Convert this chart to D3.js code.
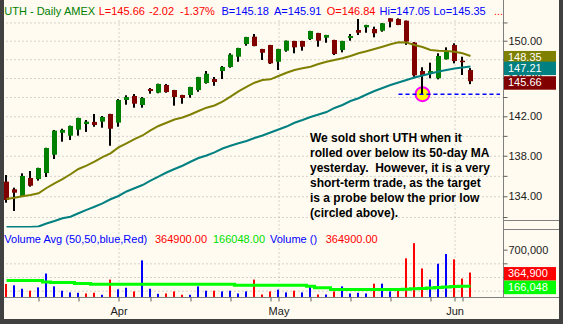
<!DOCTYPE html>
<html>
<head>
<meta charset="utf-8">
<script src="https://cdn.jsdelivr.net/npm/d3@7"></script>
<style>
  html, body { margin: 0; padding: 0; background: #404040; }
  svg { display: block; }
  text { font-family: "Liberation Sans", Arial, sans-serif; }
</style>
</head>
<body>
<svg id="chart" width="563" height="324"></svg>
<script>
// ---- Daily bars, UTH (AMEX) ----
const dates = [
  "2007-03-13","2007-03-14","2007-03-15","2007-03-16","2007-03-19","2007-03-20","2007-03-21","2007-03-22","2007-03-23",
  "2007-03-26","2007-03-27","2007-03-28","2007-03-29","2007-03-30",
  "2007-04-02","2007-04-03","2007-04-04","2007-04-05","2007-04-09","2007-04-10","2007-04-11","2007-04-12","2007-04-13",
  "2007-04-16","2007-04-17","2007-04-18","2007-04-19","2007-04-20","2007-04-23","2007-04-24","2007-04-25","2007-04-26",
  "2007-04-27","2007-04-30",
  "2007-05-01","2007-05-02","2007-05-03","2007-05-04","2007-05-07","2007-05-08","2007-05-09","2007-05-10","2007-05-11",
  "2007-05-14","2007-05-15","2007-05-16","2007-05-17","2007-05-18","2007-05-21","2007-05-22","2007-05-23","2007-05-24",
  "2007-05-25","2007-05-29","2007-05-30","2007-05-31",
  "2007-06-01","2007-06-04","2007-06-05"
];
const open = [135.43,134.68,134.03,135.79,135.69,136.28,138.10,140.32,140.02,140.63,141.21,141.42,141.45,142.24,
  141.35,143.69,144.11,143.17,144.84,144.45,145.26,144.73,144.21,144.21,144.73,145.47,145.89,146.74,147.17,148.27,
  149.64,150.44,149.10,149.53,147.73,148.92,149.97,149.97,150.18,150.84,150.33,150.08,148.99,150.29,151.17,151.46,
  151.28,151.09,152.46,152.38,152.19,149.80,146.74,146.42,145.97,147.99,149.53,147.84,146.84];
const high = [136.08,134.84,136.25,136.48,136.80,138.80,140.60,140.73,141.05,141.85,141.62,142.24,142.03,142.26,
  143.79,144.18,144.31,144.00,144.94,145.40,145.37,144.75,144.23,145.07,146.12,146.74,146.10,147.27,148.64,149.23,
  150.42,150.73,149.12,149.55,149.12,150.02,149.99,149.99,151.08,150.86,150.64,150.10,149.99,150.73,152.38,151.74,
  151.53,151.93,152.45,152.45,152.21,149.85,147.14,147.63,148.64,149.28,149.72,148.27,147.05];
const low = [133.38,132.58,133.96,134.94,135.53,135.89,137.67,139.41,139.58,140.02,140.40,140.93,140.83,139.00,
  140.93,143.20,142.89,142.89,144.35,144.39,144.45,143.10,143.30,143.93,144.55,145.40,145.18,145.89,147.09,147.73,
  149.46,149.40,147.92,147.49,146.85,148.81,148.64,148.92,150.08,149.35,149.78,148.45,148.74,150.00,150.62,150.87,
  150.37,150.98,151.46,151.70,149.55,146.12,144.30,145.97,145.86,147.97,147.56,146.32,145.35];
const close = [133.64,134.35,135.99,135.03,136.78,138.77,140.53,140.60,141.01,141.83,141.45,141.11,141.93,140.73,
  143.69,144.00,143.30,143.90,144.63,145.37,144.52,144.00,143.90,145.05,146.10,146.45,145.58,147.17,148.49,149.21,
  150.40,149.42,148.70,147.56,149.10,150.00,149.28,149.35,151.06,150.00,150.62,148.56,149.97,150.51,150.87,151.72,
  150.81,151.91,152.08,151.72,149.90,146.28,146.22,146.74,148.35,148.81,147.81,147.68,145.66];
const priorClose = 135.60;
const bid = 145.18, ask = 145.91;

// 20-day and 50-day simple moving averages of the close
const ma20 = [133.74,133.86,134.01,134.12,134.29,134.81,135.27,135.67,136.16,136.68,137.02,137.42,137.87,138.24,
  138.83,139.25,139.68,140.04,140.55,141.01,141.34,141.67,141.88,142.19,142.55,142.89,143.12,143.53,144.05,144.58,
  145.05,145.50,145.79,145.86,146.21,146.56,146.85,147.03,147.20,147.49,147.73,147.92,148.10,148.35,148.64,148.86,
  149.10,149.35,149.61,149.83,149.80,149.53,149.32,148.99,148.92,148.88,148.81,148.64,148.35];
const ma50 = [130.20,130.45,130.70,130.90,131.10,131.38,131.62,131.88,132.03,132.36,132.68,132.99,133.32,133.71,
  134.03,134.47,134.78,135.10,135.52,135.92,136.33,136.68,137.00,137.40,137.77,138.02,138.34,138.72,139.00,139.25,
  139.48,139.78,140.04,140.34,140.65,140.95,141.34,141.62,141.93,142.19,142.44,142.86,143.17,143.58,143.87,144.26,
  144.63,144.94,145.26,145.52,145.79,146.05,146.26,146.47,146.69,146.85,147.01,147.11,147.21];

// Daily volume and its 50-day average
const volume = [197500,178000,128000,99000,148000,351000,163000,99000,74000,69000,59000,69000,40000,262000,
  119000,143000,89000,543000,128000,54000,59000,89000,40000,40000,163000,99000,99000,89000,99000,59000,
  89000,262000,44000,89000,114000,74000,99000,74000,178000,44000,44000,89000,163000,59000,69000,59000,
  202000,202000,89000,114000,573000,795000,425000,262000,494000,637000,558000,277000,364900];
const volAvg = [250000,250000,250000,250000,250000,226000,220000,220000,220000,205000,205000,193000,193000,193000,
  193000,193000,193000,193000,193000,193000,193000,193000,193000,193000,193000,193000,193000,193000,193000,180000,
  180000,180000,180000,180000,180000,180000,180000,180000,166000,141000,141000,117000,117000,117000,117000,117000,
  117000,117000,117000,117000,122000,128000,133000,138000,145000,152000,160000,163000,166048];

const priceTicks = [132,134,136,138,140,142,144,146,148,150,152];
const priceLabels = [134,138,142,146,150];
const volTicks = [100000,300000,500000,700000];
const volLabels = [700000];
const monthNames = ["Jan","Feb","Mar","Apr","May","Jun","Jul","Aug","Sep","Oct","Nov","Dec"];

const noteLines = [
  "We sold short UTH when it",
  "rolled over below its 50-day MA",
  "yesterday.  However, it is a very",
  "short-term trade, as the target",
  "is a probe below the prior low",
  "(circled above)."
];

// ---- layout ----
const W = 563, H = 324;
const plotL = 4, axisX = 503.5, frameR = 559;
const priceTop = 18, priceBot = 227;
const volBase = 297.5;
const bg = "#fffbf0";
const n = dates.length;
const last = n - 1;

const svg = d3.select("#chart");
svg.append("rect").attr("width", W).attr("height", H).attr("fill", "#404040");
svg.append("rect").attr("x", plotL).attr("y", 0).attr("width", frameR - plotL).attr("height", 319).attr("fill", bg);

const x = d3.scalePoint().domain(dates).range([6.5, 6.5 + 8 * (n - 1)]);
const y = d3.scaleLog().domain([131.05, 152.49]).range([priceBot, priceTop]).clamp(true);
const vy = d3.scaleLinear().domain([0, 1000000]).range([volBase, volBase - 68.35]);

const dayIdx = dates.map(d => new Date(d + "T12:00:00"));
const monthStarts = dates.filter((d, i) => i > 0 && dayIdx[i].getMonth() !== dayIdx[i - 1].getMonth());
const weekStarts = dates.filter((d, i) => i > 0 && dayIdx[i].getDay() < dayIdx[i - 1].getDay());
const xTicks = Array.from(new Set(weekStarts.concat(monthStarts))).sort();

svg.append("defs").append("clipPath").attr("id", "priceClip")
  .append("rect").attr("x", plotL).attr("y", priceTop).attr("width", axisX - plotL).attr("height", priceBot - priceTop + 0.5);

const gridColor = "#a9a9a9";
function styleGrid(g) {
  g.select(".domain").remove();
  g.selectAll("line").attr("stroke", gridColor).attr("stroke-dasharray", "1,3");
  g.selectAll("text").remove();
}

// horizontal price grid
svg.append("g").attr("transform", `translate(${axisX},0)`)
  .call(d3.axisLeft(y).tickValues(priceTicks).tickSize(axisX - plotL).tickFormat(""))
  .call(styleGrid);
// horizontal volume grid
svg.append("g").attr("transform", `translate(${axisX},0)`)
  .call(d3.axisLeft(vy).tickValues(volTicks.filter(v => !volLabels.includes(v))).tickSize(axisX - plotL).tickFormat(""))
  .call(styleGrid);
// month separators through both panels
svg.append("g").attr("transform", `translate(0,${volBase})`)
  .call(d3.axisTop(x).tickValues(monthStarts).tickSize(volBase - priceTop).tickFormat(""))
  .call(styleGrid);

// ---- price panel ----
const pg = svg.append("g").attr("clip-path", "url(#priceClip)");

const lowIdx = 52;
pg.append("circle")
  .attr("cx", x(dates[lowIdx])).attr("cy", y(low[lowIdx])).attr("r", 7)
  .attr("fill", "#ffff00").attr("stroke", "#ff00ff").attr("stroke-width", 2);

const candles = pg.append("g").selectAll("g").data(dates).join("g");
candles.append("rect")
  .attr("x", d => x(d) - 1.5).attr("width", 2)
  .attr("y", (d, i) => y(high[i])).attr("height", (d, i) => Math.max(1, y(low[i]) - y(high[i])))
  .attr("fill", "#000");
candles.append("rect")
  .attr("x", d => x(d) - 2.5).attr("width", 5)
  .attr("y", (d, i) => Math.min(y(open[i]), y(close[i])))
  .attr("height", (d, i) => Math.max(1.5, Math.abs(y(open[i]) - y(close[i]))))
  .attr("fill", (d, i) => close[i] >= open[i] ? "#008000" : "#800000");

pg.append("line")
  .attr("x1", x(dates[49])).attr("x2", 500)
  .attr("y1", y(low[lowIdx])).attr("y2", y(low[lowIdx]))
  .attr("stroke", "#0000ff").attr("stroke-width", 1.5).attr("stroke-dasharray", "4,3");

const maLine = d3.line().x((d, i) => x(dates[i])).y(d => y(d));
pg.append("path").attr("d", maLine(ma50)).attr("fill", "none").attr("stroke", "#008080").attr("stroke-width", 2);
pg.append("path").attr("d", maLine(ma20)).attr("fill", "none").attr("stroke", "#808000").attr("stroke-width", 2);

// annotation
const note = svg.append("text").attr("font-size", 12).attr("font-weight", "bold").attr("fill", "#000")
  .style("white-space", "pre");
noteLines.forEach((t, k) => note.append("tspan").attr("x", 310).attr("y", 142.3 + 15 * k).text(t));

// ---- volume panel ----
svg.append("g").selectAll("rect").data(dates).join("rect")
  .attr("x", d => x(d) - 1.5).attr("width", 2)
  .attr("y", (d, i) => vy(volume[i])).attr("height", (d, i) => volBase - vy(volume[i]))
  .attr("fill", (d, i) => close[i] >= (i ? close[i - 1] : priorClose) ? "#0000ff" : "#ff0000");

svg.append("path")
  .attr("d", d3.line().curve(d3.curveStep).x((d, i) => x(dates[i])).y(d => vy(d))(volAvg))
  .attr("fill", "none").attr("stroke", "#00ff00").attr("stroke-width", 3);

// ---- axes ----
const axisColor = "#808080";
svg.append("line").attr("x1", axisX).attr("x2", axisX).attr("y1", 0).attr("y2", volBase).attr("stroke", axisColor);
svg.append("line").attr("x1", axisX).attr("x2", frameR).attr("y1", 220.5).attr("y2", 220.5).attr("stroke", axisColor);
svg.append("line").attr("x1", axisX).attr("x2", frameR).attr("y1", 229.5).attr("y2", 229.5).attr("stroke", axisColor);
svg.append("line").attr("x1", plotL).attr("x2", frameR).attr("y1", volBase).attr("y2", volBase).attr("stroke", axisColor);

function styleAxis(g) {
  g.select(".domain").remove();
  g.selectAll("line").attr("stroke", "#606060");
  g.selectAll("text").attr("fill", "#202020").attr("font-size", 11)
    .attr("font-family", "Liberation Sans, Arial, sans-serif");
}
svg.append("g").attr("transform", `translate(${axisX},0)`)
  .call(d3.axisRight(y).tickValues(priceTicks).tickSize(4).tickPadding(1)
    .tickFormat(d => priceLabels.includes(d) ? d.toFixed(2) : ""))
  .call(styleAxis);
svg.append("g").attr("transform", `translate(${axisX},0)`)
  .call(d3.axisRight(vy).tickValues(volTicks).tickSize(4).tickPadding(1)
    .tickFormat(d => volLabels.includes(d) ? d3.format(",")(d) : ""))
  .call(styleAxis);
svg.append("g").attr("transform", `translate(0,${volBase})`)
  .call(d3.axisBottom(x).tickValues(xTicks).tickSize(4).tickPadding(6)
    .tickFormat(d => monthStarts.includes(d) ? monthNames[new Date(d + "T12:00:00").getMonth()] : ""))
  .call(styleAxis);

// current-value tags on the right axis, stacked in drawing order
function tag(yy, color, label) {
  svg.append("rect").attr("x", axisX + 0.5).attr("y", yy - 5).attr("width", 52).attr("height", 13.5).attr("fill", color);
  svg.append("text").attr("x", 508).attr("y", yy + 5).attr("font-size", 11).attr("fill", "#fff").text(label);
}
tag(y(ma20[last]), "#808000", ma20[last].toFixed(2));
tag(y(ma50[last]), "#008080", ma50[last].toFixed(2));
tag(y(close[last]), "#800000", close[last].toFixed(2));
tag(vy(volume[last]) - 0.5, "#ff0000", d3.format(",")(volume[last]));
tag(vy(volAvg[last]) - 0.5, "#00ff00", d3.format(",")(volAvg[last]));

// ---- header lines ----
const chg = close[last] - close[last - 1];
const pct = chg / close[last - 1] * 100;
const headerSegs = [
  ["UTH - Daily", "#008000", 4.3], ["AMEX", "#008000", 63.9],
  ["L=" + close[last].toFixed(2), "#ff0000", 98.7], [chg.toFixed(2), "#ff0000", 149],
  [pct.toFixed(2) + "%", "#ff0000", 180],
  ["B=" + bid.toFixed(2), "#0000ff", 221.5], ["A=" + ask.toFixed(2), "#0000ff", 274],
  ["O=" + open[last].toFixed(2), "#ff0000", 326.8], ["Hi=" + high[last].toFixed(2), "#0000ff", 379.5],
  ["Lo=" + low[last].toFixed(2), "#0000ff", 433.4], ["...", "#ff0000", 494]
];
svg.append("g").selectAll("text").data(headerSegs).join("text")
  .attr("x", d => d[2]).attr("y", 14.5).attr("font-size", 11).attr("fill", d => d[1]).text(d => d[0]);

const volSegs = [
  ["Volume Avg (50,50,blue,Red)", "#0000ff", 4.3],
  [volume[last].toFixed(2), "#ff0000", 155],
  [volAvg[last].toFixed(2), "#00e000", 213],
  ["Volume ()", "#0000ff", 270],
  [volume[last].toFixed(2), "#ff0000", 325.7]
];
svg.append("g").selectAll("text").data(volSegs).join("text")
  .attr("x", d => d[2]).attr("y", 243).attr("font-size", 11).attr("fill", d => d[1]).text(d => d[0]);
</script>
</body>
</html>
